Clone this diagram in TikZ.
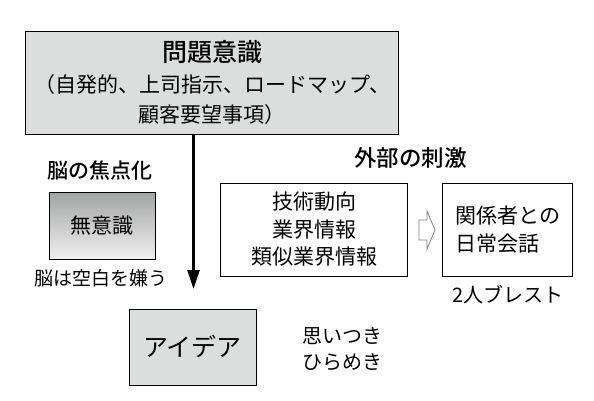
\documentclass[tikz,border=0pt]{standalone}
\usepackage{fontspec}
\setmainfont{Noto Sans CJK JP}[BoldFont={Noto Sans CJK JP Medium}]
\usetikzlibrary{arrows.meta}
\definecolor{box_gray}{RGB}{220, 221, 221}
\definecolor{grad_top}{RGB}{162, 163, 163}
\definecolor{grad_bot}{RGB}{240, 240, 240}
\tikzstyle{gb}=[rectangle,fill=box_gray,draw=black,line width=0.9pt,inner sep=3pt]
\tikzstyle{wb}=[rectangle,fill=white,draw=black,line width=0.9pt,inner sep=3pt]
\tikzstyle{gd}=[rectangle,top color=grad_top,bottom color=grad_bot,draw=black,
  line width=0.9pt,inner sep=3pt]
\tikzstyle{txt}=[inner sep=0pt,font=\fontsize{21pt}{27.5pt}\selectfont]
\tikzstyle{hd}=[inner sep=0pt,font=\fontsize{22pt}{27pt}\selectfont\bfseries]

\begin{document}
\begin{tikzpicture}[x=1pt,y=-1pt]
        \useasboundingbox (0,0) rectangle (594,400);
        \node[style=gb,minimum width=373pt,minimum height=103pt,align=center,
          font=\fontsize{21pt}{30pt}\selectfont] (mon) at (212.25,82.5)
          {{\fontsize{25pt}{30pt}\selectfont\bfseries 問題意識}\\[1pt]
           （自発的、上司指示、ロードマップ、\\顧客要望事項）};
        \node[style=hd,font=\fontsize{21pt}{26pt}\selectfont\bfseries] (nou) at (100,171) {脳の焦点化};
        \node[style=gd,minimum width=106pt,minimum height=67pt,style=txt,inner sep=3pt] (mui) at (102,225.5) {無意識};
        \node[style=txt,font=\fontsize{19pt}{24pt}\selectfont] (kirai) at (101,278) {脳は空白を嫌う};
        \node[style=gb,minimum width=127pt,minimum height=76pt,
          font=\fontsize{25pt}{30pt}\selectfont] (idea) at (192.5,347) {アイデア};
        \node[style=txt,align=center,font=\fontsize{20pt}{26pt}\selectfont] (omoi) at (342,349) {思いつき\\ひらめき};
        \node[style=hd,font=\fontsize{22.5pt}{27pt}\selectfont\bfseries] (gaibu) at (410.5,158) {外部の刺激};
        \node[style=wb,minimum width=187pt,minimum height=93pt,align=center,style=txt,inner sep=3pt] (gi) at (314.4,229.5)
          {技術動向\\業界情報\\類似業界情報};
        \node[style=wb,minimum width=130pt,minimum height=93pt,align=left,style=txt,inner sep=3pt] (kan) at (507.75,229.5)
          {関係者との\\日常会話};
        \node[style=txt,font=\fontsize{20pt}{24pt}\selectfont] (bre) at (508,295) {2人ブレスト};
        \coordinate (tip) at (193.5,289);
        \draw[line width=2.6pt,-{Triangle[width=12pt,length=19pt]}] (mon.south -| tip) to (tip);
        \draw[draw=gray,line width=0.8pt,fill=white] (419,220) -- (427,220) -- (427,211) -- (435,230)
          -- (427,249) -- (427,240) -- (419,240) -- cycle;
\end{tikzpicture}
\end{document}
